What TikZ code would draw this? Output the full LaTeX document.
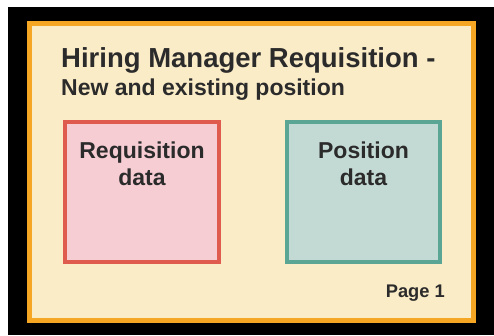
\documentclass[tikz,border=0pt]{standalone}
\usepackage{fontspec}
\setmainfont{Liberation Sans}
\usepackage{xcolor}
\usepackage{tikz}
\usetikzlibrary{positioning}
\definecolor{crema}{HTML}{FBECC8}
\definecolor{naranja}{HTML}{F5A623}
\definecolor{rojo}{HTML}{DE5B4E}
\definecolor{rosa}{HTML}{F5CDD3}
\definecolor{verde}{HTML}{5BA595}
\definecolor{verdeclaro}{HTML}{C3DAD4}
\definecolor{tinta}{HTML}{2B2B2B}
\tikzset{
  hoja/.style={fill=crema,draw=naranja,line width=5pt},
  caja/.style={rectangle,line width=4pt,minimum height=140pt,inner sep=0pt},
  cajaroja/.style={caja,fill=rosa,draw=rojo,minimum width=154pt},
  cajaverde/.style={caja,fill=verdeclaro,draw=verde,minimum width=153pt},
  texto/.style={text=tinta,font=\bfseries,inner sep=0pt},
  rotulo/.style={texto,align=center,font=\bfseries\fontsize{23}{27}\selectfont,anchor=north}
}
\begin{document}
\begin{tikzpicture}[x=1pt,y=-1pt]
\useasboundingbox (0,0) rectangle (494,335);
\fill[black] (8,7) rectangle (494,335);
\draw[hoja] (29.5,23.5) rectangle (473.5,320.5);
\node[texto,anchor=base west,font=\bfseries\fontsize{27.5}{30}\selectfont] (titulo) at (61,67) {Hiring Manager Requisition -};
\node[texto,anchor=base west,font=\bfseries\fontsize{23}{26}\selectfont] (subtitulo) at (61,95) {New and existing position};
\node[cajaroja] (req) at (142,192) {};
\node[cajaverde] (pos) at (363.5,192) {};
\node[rotulo,below=21.5pt of req.north] (reqtxt) {Requisition\\data};
\node[rotulo,below=21.5pt of pos.north] (postxt) {Position\\data};
\node[texto,anchor=base east,font=\bfseries\fontsize{18.3}{20}\selectfont] (pagina) at (445,297) {Page 1};
\end{tikzpicture}
\end{document}
